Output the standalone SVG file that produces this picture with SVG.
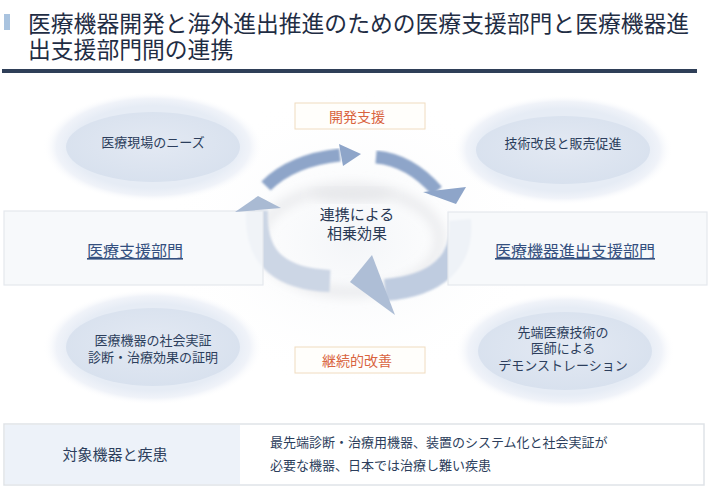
<svg xmlns="http://www.w3.org/2000/svg" width="711" height="498" viewBox="0 0 711 498">
<style>
text{font-family:"Noto Sans CJK JP","Noto Sans",sans-serif}
.title{font-size:22.8px;fill:#1f2d44}
.ell{font-size:13px;fill:#2c3e5c;text-anchor:middle}
.dept{font-size:16px;fill:#34507f;text-anchor:middle;text-decoration:underline}
.lbl{font-size:14px;fill:#d9643f;text-anchor:middle}
.lblbox{fill:#fffefb;stroke:#f0dcc0;stroke-width:1}
.deptbox{fill:#f6f8fa;fill-opacity:0.85;stroke:#e4e8ed;stroke-width:1.2}
.center{font-size:15px;fill:#2a3a55;text-anchor:middle}
.inner{fill:url(#innerG)}
.outer{fill:url(#glow)}
.arr{fill:none;stroke-linecap:butt}
</style>
<defs>
<radialGradient id="glow" cx="0.5" cy="0.5" r="0.5">
<stop offset="0.75" stop-color="#e6ecf5"/>
<stop offset="0.88" stop-color="#f0f3f9"/>
<stop offset="1" stop-color="#ffffff" stop-opacity="0"/>
</radialGradient>
<radialGradient id="innerG" cx="0.5" cy="0.45" r="0.55">
<stop offset="0" stop-color="#e3e9f3"/>
<stop offset="1" stop-color="#d8e1ee"/>
</radialGradient>
<radialGradient id="bgG" cx="0.5" cy="0.5" r="0.5">
<stop offset="0" stop-color="#f3f5f8"/>
<stop offset="1" stop-color="#ffffff" stop-opacity="0"/>
</radialGradient>
<filter id="blur" x="-20%" y="-20%" width="140%" height="140%">
<feGaussianBlur stdDeviation="6"/>
</filter>
<filter id="blur2" x="-20%" y="-20%" width="140%" height="140%">
<feGaussianBlur stdDeviation="0.8"/>
</filter>
</defs>
<rect width="711" height="498" fill="#ffffff"/>

<g id="title">
<rect x="4" y="14" width="6" height="16" fill="#a9c3df"/>
<text class="title" x="28" y="32">医療機器開発と海外進出推進のための医療支援部門と医療機器進</text>
<text class="title" x="28" y="58">出支援部門間の連携</text>
<rect x="2" y="69" width="695" height="4" fill="#2f3f58"/>
</g>

<ellipse cx="352" cy="240" rx="190" ry="150" fill="url(#bgG)"/>

<g id="needs">
<ellipse class="outer" cx="153" cy="147" rx="110" ry="55"/>
<ellipse class="inner" cx="153" cy="147" rx="87" ry="35"/>
<text class="ell" x="153" y="147">医療現場のニーズ</text>
</g>
<g id="improve">
<ellipse class="outer" cx="563" cy="150" rx="110" ry="55"/>
<ellipse class="inner" cx="563" cy="150" rx="87" ry="34"/>
<text class="ell" x="563" y="148">技術改良と販売促進</text>
</g>
<g id="proof">
<ellipse class="outer" cx="153" cy="347" rx="110" ry="58"/>
<ellipse class="inner" cx="153" cy="347" rx="87" ry="39"/>
<text class="ell" x="153" y="345">医療機器の社会実証</text>
<text class="ell" x="153" y="362">診断・治療効果の証明</text>
</g>
<g id="demo">
<ellipse class="outer" cx="565" cy="351" rx="110" ry="58"/>
<ellipse class="inner" cx="565" cy="351" rx="87" ry="39"/>
<text class="ell" x="563" y="337">先端医療技術の</text>
<text class="ell" x="563" y="353">医師による</text>
<text class="ell" x="563" y="370">デモンストレーション</text>
</g>

<g id="cycle">
<ellipse cx="350" cy="240" rx="90" ry="52" fill="none" stroke="#e2e3e6" stroke-width="7" filter="url(#blur)"/>
<ellipse cx="352" cy="195" rx="40" ry="6" fill="#e4e5e8" filter="url(#blur)"/>
</g>

<g id="connectors">
<!-- left arrow band -->
<path class="arr" d="M330 281 C285 279 254 262 257 210" stroke="#ccd6e5" stroke-width="22" filter="url(#blur2)"/>
<!-- bottom arrow band -->
<path class="arr" d="M460 220 C464 262 436 286 385 290" stroke="#bfcce0" stroke-width="22" filter="url(#blur2)"/>
<polygon points="372,255 395,315 350,282" fill="#aebed6"/>
<!-- top arrow -->
<path class="arr" d="M266 186 Q292 160 340 155" stroke="#8ea5c9" stroke-width="13" filter="url(#blur2)"/>
<polygon points="339,144 361,154 343,166" fill="#8ea5c9"/>
<!-- right arrow -->
<path class="arr" d="M376 157 Q410 160 437 191" stroke="#8ea5c9" stroke-width="13" filter="url(#blur2)"/>
<polygon points="423,192 466,187 456,204" fill="#8ea5c9"/>
</g>

<g id="medical-support">
<rect class="deptbox" x="4" y="211" width="259" height="74"/>
<text class="dept" x="135" y="257">医療支援部門</text>
</g>
<g id="export-support">
<rect class="deptbox" x="448" y="212" width="259" height="73"/>
<text class="dept" x="575" y="257">医療機器進出支援部門</text>
</g>

<g id="left-head">
<polygon points="235,212 281,208 258,196" fill="#a9bad3"/>
</g>

<g id="synergy">
<text class="center" x="357" y="220">連携による</text>
<text class="center" x="357" y="239">相乗効果</text>
</g>

<g id="dev-support">
<rect class="lblbox" x="295" y="103" width="130" height="26"/>
<text class="lbl" x="357" y="122">開発支援</text>
</g>
<g id="continuous">
<rect class="lblbox" x="295" y="347" width="130" height="26"/>
<text class="lbl" x="357" y="366">継続的改善</text>
</g>

<g id="target">
<rect x="4" y="424" width="700" height="61" fill="#ffffff" stroke="#dfe3e8" stroke-width="1.5"/>
<rect x="5" y="425" width="235" height="59" fill="#edf2f9"/>
<text x="115" y="460" font-size="15" fill="#2c3e5c" text-anchor="middle">対象機器と疾患</text>
<text x="270" y="447" font-size="13" fill="#2c3e5c">最先端診断・治療用機器、装置のシステム化と社会実証が</text>
<text x="270" y="470" font-size="13" fill="#2c3e5c">必要な機器、日本では治療し難い疾患</text>
</g>
</svg>
